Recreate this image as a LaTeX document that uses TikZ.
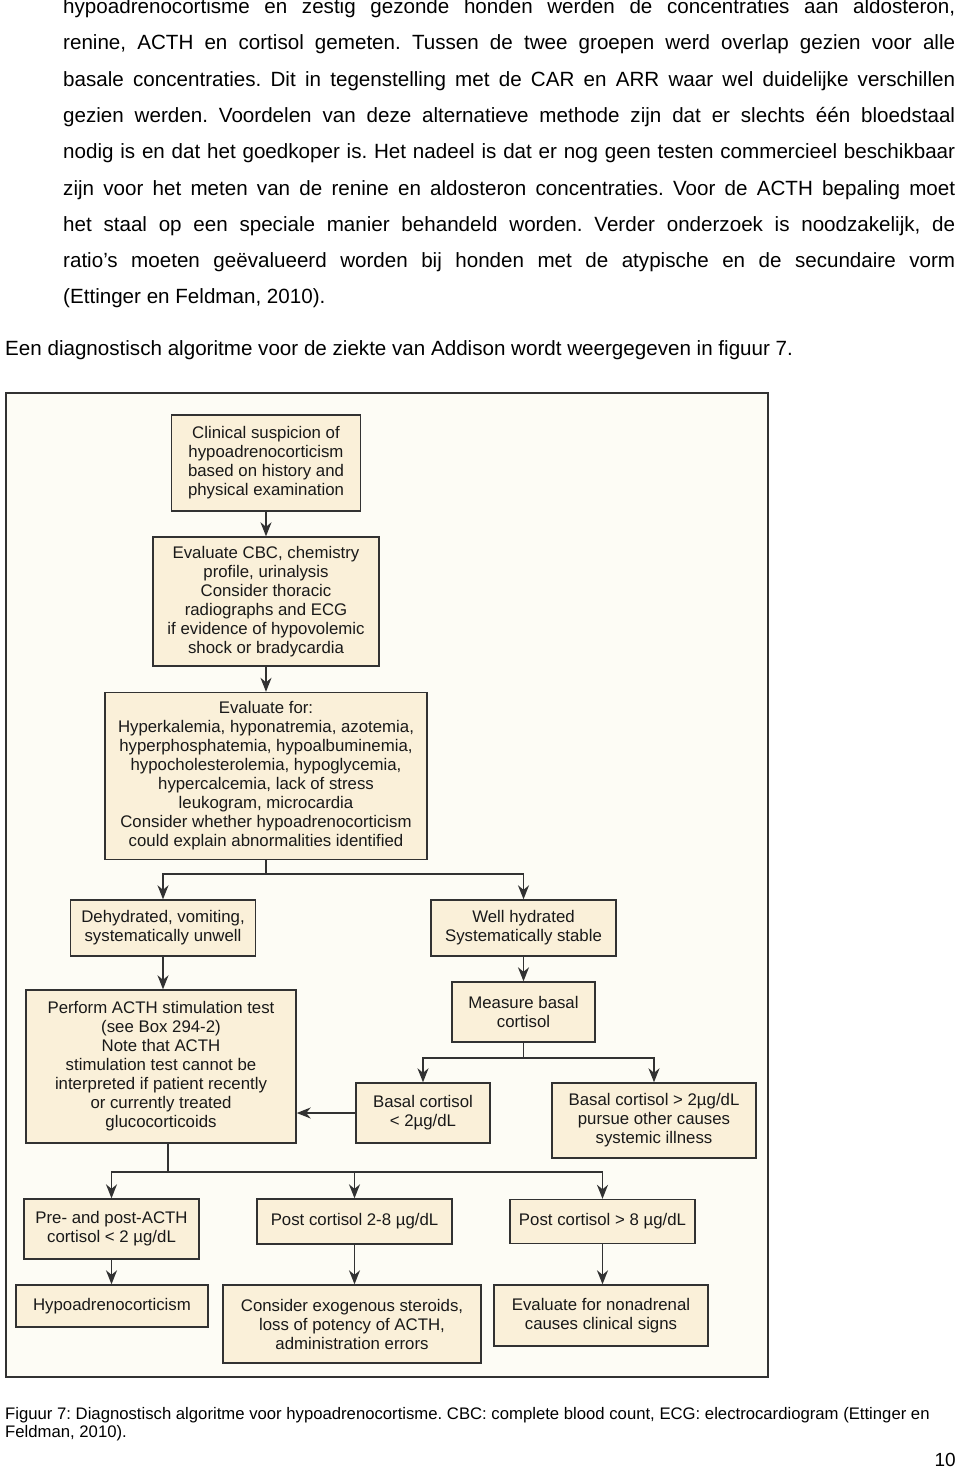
\documentclass[tikz,border=0pt]{standalone}
\usepackage{fontspec}
\setmainfont{Liberation Sans}
\usetikzlibrary{arrows.meta}
\frenchspacing

\definecolor{boxfill}{RGB}{250,240,217}
\definecolor{figfill}{RGB}{253,252,245}
\definecolor{boxline}{RGB}{50,50,50}
\definecolor{boxtext}{RGB}{25,25,25}

\newcommand{\fullline}[1]{\makebox[892pt][s]{#1}}

\tikzset{
  flowbox/.style={draw=boxline, line width=1.4pt, fill=boxfill, text=boxtext,
    align=center, inner sep=0pt, font=\fontsize{16.8}{19}\selectfont},
  link/.style={draw=boxline, line width=1.5pt},
  bodyline/.style={anchor=west, inner sep=0pt, font=\fontsize{20.6}{22}\selectfont},
  capline/.style={anchor=west, inner sep=0pt, align=left, font=\fontsize{16.7}{18}\selectfont},
}

\begin{document}
\begin{tikzpicture}[x=1pt, y=-1pt, >={Stealth[length=14pt, width=11pt, inset=4.5pt]}]
  \useasboundingbox (0,0) rectangle (960,1471);
  \fill[white] (0,0) rectangle (960,1471);

  % Text above the figure
  \node[bodyline] (par1) at (63,8) {\fullline{hypoadrenocortisme en zestig gezonde honden werden de concentraties aan aldosteron,}};
  \node[bodyline] (par2) at (63,44.5) {\fullline{renine, ACTH en cortisol gemeten. Tussen de twee groepen werd overlap gezien voor alle}};
  \node[bodyline] (par3) at (63,81) {\fullline{basale concentraties. Dit in tegenstelling met de CAR en ARR waar wel duidelijke verschillen}};
  \node[bodyline] (par4) at (63,117.5) {\fullline{gezien werden. Voordelen van deze alternatieve methode zijn dat er slechts één bloedstaal}};
  \node[bodyline] (par5) at (63,153.5) {\fullline{nodig is en dat het goedkoper is. Het nadeel is dat er nog geen testen commercieel beschikbaar}};
  \node[bodyline] (par6) at (63,190) {\fullline{zijn voor het meten van de renine en aldosteron concentraties. Voor de ACTH bepaling moet}};
  \node[bodyline] (par7) at (63,226) {\fullline{het staal op een speciale manier behandeld worden. Verder onderzoek is noodzakelijk, de}};
  \node[bodyline] (par8) at (63,262) {\fullline{ratio’s moeten geëvalueerd worden bij honden met de atypische en de secundaire vorm}};
  \node[bodyline] (par9) at (63,298) {(Ettinger en Feldman, 2010).};
  \node[bodyline] (intro) at (5,350) {Een diagnostisch algoritme voor de ziekte van Addison wordt weergegeven in figuur 7.};

  % Figure frame
  \draw[draw=boxline, line width=1.8pt, fill=figfill] (6,393) rectangle (768,1377);

  % Nodes
  \node[flowbox, minimum width=189pt, minimum height=96pt] (clinical) at (266,463)
    {Clinical suspicion of\\hypoadrenocorticism\\based on history and\\physical examination};
  \node[flowbox, minimum width=226pt, minimum height=129pt] (evalcbc) at (266,601.5)
    {Evaluate CBC, chemistry\\profile, urinalysis\\Consider thoracic\\radiographs and ECG\\if evidence of hypovolemic\\shock or bradycardia};
  \node[flowbox, minimum width=322pt, minimum height=167pt] (evalfor) at (266,776)
    {Evaluate for:\\Hyperkalemia, hyponatremia, azotemia,\\hyperphosphatemia, hypoalbuminemia,\\hypocholesterolemia, hypoglycemia,\\hypercalcemia, lack of stress\\leukogram, microcardia\\Consider whether hypoadrenocorticism\\could explain abnormalities identified};
  \node[flowbox, minimum width=185pt, minimum height=56pt] (dehydrated) at (163,928)
    {Dehydrated, vomiting,\\systematically unwell};
  \node[flowbox, minimum width=185pt, minimum height=56pt] (hydrated) at (523.5,928)
    {Well hydrated\\Systematically stable};
  \node[flowbox, minimum width=143pt, minimum height=60pt] (basalcort) at (523.5,1012)
    {Measure basal\\cortisol};
  \node[flowbox, minimum width=270pt, minimum height=153pt] (acthtest) at (161,1066.5)
    {Perform ACTH stimulation test\\(see Box 294-2)\\Note that ACTH\\stimulation test cannot be\\interpreted if patient recently\\or currently treated\\glucocorticoids};
  \node[flowbox, minimum width=134pt, minimum height=60pt] (basallow) at (423,1113)
    {Basal cortisol\\< 2µg/dL};
  \node[flowbox, minimum width=204pt, minimum height=75pt] (basalhigh) at (654,1120.5)
    {Basal cortisol > 2µg/dL\\pursue other causes\\systemic illness};
  \node[flowbox, minimum width=175pt, minimum height=60pt] (prepost) at (111.5,1229)
    {Pre- and post-ACTH\\cortisol < 2 µg/dL};
  \node[flowbox, minimum width=195pt, minimum height=45pt] (postmid) at (354.5,1221.5)
    {Post cortisol 2-8 µg/dL};
  \node[flowbox, minimum width=185pt, minimum height=44pt] (posthigh) at (602.5,1221.5)
    {Post cortisol > 8 µg/dL};
  \node[flowbox, minimum width=192pt, minimum height=42pt] (hypo) at (112,1306)
    {Hypoadrenocorticism};
  \node[flowbox, minimum width=258pt, minimum height=78pt] (exogen) at (352,1324)
    {Consider exogenous steroids,\\loss of potency of ACTH,\\administration errors};
  \node[flowbox, minimum width=214pt, minimum height=61pt] (nonadrenal) at (601,1315.5)
    {Evaluate for nonadrenal\\causes clinical signs};

  \coordinate (fork1) at (266,874);
  \coordinate (fork2) at (523.5,1058);
  \coordinate (fork3) at (168,1172);

  % Arrows
  \draw[link, ->] (clinical) -- (evalcbc);
  \draw[link, ->] (evalcbc) -- (evalfor);
  \draw[link] (evalfor) -- (fork1);
  \draw[link, ->] (fork1) -| (dehydrated);
  \draw[link, ->] (fork1) -| (hydrated);
  \draw[link, ->] (hydrated) -- (basalcort);
  \draw[link, ->] (dehydrated.south) -- (dehydrated.south |- acthtest.north);
  \draw[link] (basalcort) -- (fork2);
  \draw[link, ->] (fork2) -| (basallow);
  \draw[link, ->] (fork2) -| (basalhigh);
  \draw[link, ->] (basallow.west) -- (basallow.west -| acthtest.east);
  \draw[link] (acthtest.south -| fork3) -- (fork3);
  \draw[link, ->] (fork3) -| (prepost);
  \draw[link, ->] (fork3) -| (postmid);
  \draw[link, ->] (fork3) -| (posthigh);
  \draw[link, ->] (prepost.south) -- (prepost.south |- hypo.north);
  \draw[link, ->] (postmid.south) -- (postmid.south |- exogen.north);
  \draw[link, ->] (posthigh.south) -- (posthigh.south |- nonadrenal.north);

  % Caption and page number
  \node[capline] (caption) at (5,1424)
    {Figuur 7: Diagnostisch algoritme voor hypoadrenocortisme. CBC: complete blood count, ECG: electrocardiogram (Ettinger en\\Feldman, 2010).};
  \node[anchor=east, inner sep=0pt, font=\fontsize{19}{22}\selectfont] (pagenum) at (956,1460) {10};
\end{tikzpicture}
\end{document}
